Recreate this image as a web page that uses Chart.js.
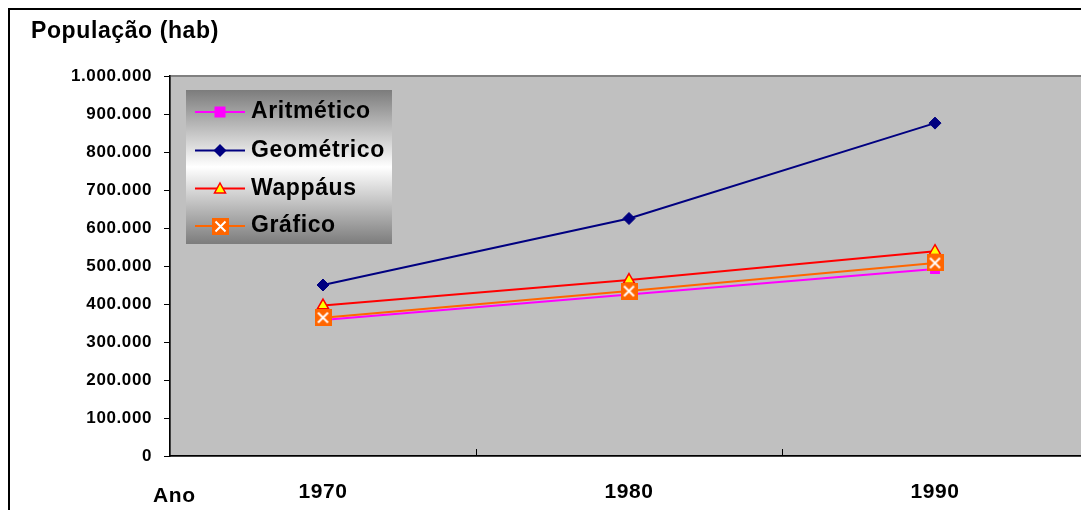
<!DOCTYPE html>
<html>
<head>
<meta charset="utf-8">
<script src="https://cdn.jsdelivr.net/npm/chart.js@4/dist/chart.umd.min.js"></script>
<style>
  html, body { margin: 0; padding: 0; background: #fff; overflow: hidden; width: 1081px; height: 510px; }
  canvas { display: block; }
</style>
</head>
<body>
<canvas id="c" width="1100" height="510"></canvas>
<script>
// Population projections by method (inhabitants)
const anos = ['1970', '1980', '1990'];
const aritmetico = [358000, 425000, 492000];
const geometrico = [450000, 625000, 876000];
const wappaus   = [396000, 463000, 539000];
const grafico   = [364000, 434000, 508000];

const yMax = 1000000;
const yStep = 100000;

const FONT = "'Liberation Sans', Arial, sans-serif";
const SPACING = '0.6px';

function milhar(v) {
  return String(v).replace(/\B(?=(\d{3})+(?!\d))/g, '.');
}

// orange square with a white cross, used for the "Gráfico" series
function crossMarker() {
  const s = 17;
  const c = document.createElement('canvas');
  c.width = s; c.height = s;
  const g = c.getContext('2d');
  g.fillStyle = '#FF6600';
  g.fillRect(0, 0, s, s);
  g.strokeStyle = '#FFFFFF';
  g.lineWidth = 2;
  g.beginPath();
  g.moveTo(3.5, 3.5); g.lineTo(s - 3.5, s - 3.5);
  g.moveTo(s - 3.5, 3.5); g.lineTo(3.5, s - 3.5);
  g.stroke();
  return c;
}
const xMark = crossMarker();

function legendMarker(ctx, kind, x, y) {
  ctx.save();
  if (kind === 'square') {
    ctx.fillStyle = '#FF00FF';
    ctx.fillRect(x - 5.5, y - 5.5, 11, 11);
  } else if (kind === 'diamond') {
    ctx.fillStyle = '#000080';
    ctx.beginPath();
    ctx.moveTo(x - 6.5, y); ctx.lineTo(x, y - 6.5); ctx.lineTo(x + 6.5, y); ctx.lineTo(x, y + 6.5);
    ctx.closePath(); ctx.fill();
  } else if (kind === 'triangle') {
    ctx.fillStyle = '#FFFF00';
    ctx.strokeStyle = '#FF0000';
    ctx.lineWidth = 1.5;
    ctx.beginPath();
    ctx.moveTo(x, y - 5.5); ctx.lineTo(x + 5.5, y + 4.5); ctx.lineTo(x - 5.5, y + 4.5);
    ctx.closePath(); ctx.fill(); ctx.stroke();
  } else if (kind === 'cross') {
    ctx.drawImage(xMark, Math.round(x - 8.5), Math.round(y - 8.5));
  }
  ctx.restore();
}

const legendKinds = ['square', 'diamond', 'triangle', 'cross'];

const chartDecor = {
  id: 'chartDecor',
  beforeLayout(chart) { chart.ctx.letterSpacing = SPACING; },
  beforeDraw(chart) {
    const ctx = chart.ctx;
    ctx.letterSpacing = SPACING;
    const a = chart.chartArea;
    ctx.save();
    ctx.fillStyle = '#FFFFFF';
    ctx.fillRect(0, 0, chart.width, chart.height);
    // outer frame
    ctx.strokeStyle = '#000000';
    ctx.lineWidth = 2;
    ctx.strokeRect(9, 9, 2000, 1000);
    // plot area
    ctx.fillStyle = '#C0C0C0';
    ctx.fillRect(a.left, a.top, a.right - a.left, a.bottom - a.top);
    ctx.strokeStyle = '#808080';
    ctx.lineWidth = 2;
    ctx.strokeRect(a.left, a.top, a.right - a.left, a.bottom - a.top);
    ctx.restore();
  },
  beforeDatasetsDraw(chart) {
    // short tick marks between categories, pointing into the plot
    const ctx = chart.ctx;
    const x = chart.scales.x;
    const a = chart.chartArea;
    ctx.save();
    ctx.strokeStyle = '#000000';
    ctx.lineWidth = 1;
    for (let i = 0; i < anos.length - 1; i++) {
      const px = Math.round((x.getPixelForTick(i) + x.getPixelForTick(i + 1)) / 2) + 0.5;
      ctx.beginPath();
      ctx.moveTo(px, a.bottom);
      ctx.lineTo(px, a.bottom - 7);
      ctx.stroke();
    }
    ctx.restore();
  },
  afterDraw(chart) {
    const ctx = chart.ctx;
    ctx.save();
    ctx.letterSpacing = SPACING;
    // axis captions
    ctx.fillStyle = '#000000';
    ctx.textAlign = 'left';
    ctx.textBaseline = 'alphabetic';
    ctx.font = 'bold 23px ' + FONT;
    ctx.fillText('População (hab)', 31, 38);
    ctx.font = 'bold 21px ' + FONT;
    ctx.fillText('Ano', 153, 502);

    // legend box
    const lx = 186, ly = 90, lw = 206, lh = 154;
    const grad = ctx.createLinearGradient(0, ly, 0, ly + lh);
    grad.addColorStop(0, '#7C7C7C');
    grad.addColorStop(0.5, '#FFFFFF');
    grad.addColorStop(1, '#7C7C7C');
    ctx.fillStyle = grad;
    ctx.fillRect(lx, ly, lw, lh);

    const rows = [112, 150.5, 188.5, 226];
    chart.data.datasets.forEach((ds, i) => {
      const y = rows[i];
      ctx.strokeStyle = ds.borderColor;
      ctx.lineWidth = 2;
      ctx.beginPath();
      ctx.moveTo(195, y);
      ctx.lineTo(245, y);
      ctx.stroke();
      legendMarker(ctx, legendKinds[i], 220, y);
      ctx.fillStyle = '#000000';
      ctx.font = 'bold 23px ' + FONT;
      ctx.fillText(ds.label, 251, y + 6);
    });
    ctx.restore();
  }
};

new Chart(document.getElementById('c'), {
  type: 'line',
  data: {
    labels: anos,
    datasets: [
      {
        label: 'Aritmético', data: aritmetico, order: 3,
        borderColor: '#FF00FF', backgroundColor: '#FF00FF', borderWidth: 2,
        pointStyle: 'rect', pointRadius: 7, pointBorderWidth: 0
      },
      {
        label: 'Geométrico', data: geometrico, order: 2,
        borderColor: '#000080', backgroundColor: '#000080', borderWidth: 2,
        pointStyle: 'rectRot', pointRadius: 6, pointBorderWidth: 1
      },
      {
        label: 'Wappáus', data: wappaus, order: 1,
        borderColor: '#FF0000', backgroundColor: '#FFFF00', borderWidth: 2,
        pointStyle: 'triangle', pointRadius: 6.5, pointBorderWidth: 1.5,
        pointBorderColor: '#FF0000'
      },
      {
        label: 'Gráfico', data: grafico, order: 0,
        borderColor: '#FF6600', backgroundColor: '#FF6600', borderWidth: 2,
        pointStyle: xMark, pointRadius: 8
      }
    ]
  },
  options: {
    responsive: false,
    animation: false,
    devicePixelRatio: 1,
    events: [],
    layout: { padding: { left: 0, right: 12, top: 76, bottom: 0 } },
    plugins: {
      legend: { display: false },
      title: { display: false },
      tooltip: { enabled: false }
    },
    elements: { line: { tension: 0 } },
    scales: {
      x: {
        type: 'category',
        offset: true,
        grid: { display: false },
        border: { display: true, color: '#000000', width: 1.5 },
        ticks: {
          color: '#000000',
          padding: 16,
          maxRotation: 0,
          font: { family: FONT, size: 21, weight: 'bold' }
        },
        afterFit(scale) { scale.height = 54; }
      },
      y: {
        min: 0,
        max: yMax,
        grid: {
          drawOnChartArea: false,
          drawTicks: true,
          tickLength: 6,
          color: '#000000'
        },
        border: { display: true, color: '#000000', width: 1.5 },
        ticks: {
          stepSize: yStep,
          color: '#000000',
          padding: 12,
          font: { family: FONT, size: 17, weight: 'bold' },
          callback: (v) => milhar(v)
        },
        afterFit(scale) { scale.width = 170; }
      }
    }
  },
  plugins: [chartDecor]
});
</script>
</body>
</html>
